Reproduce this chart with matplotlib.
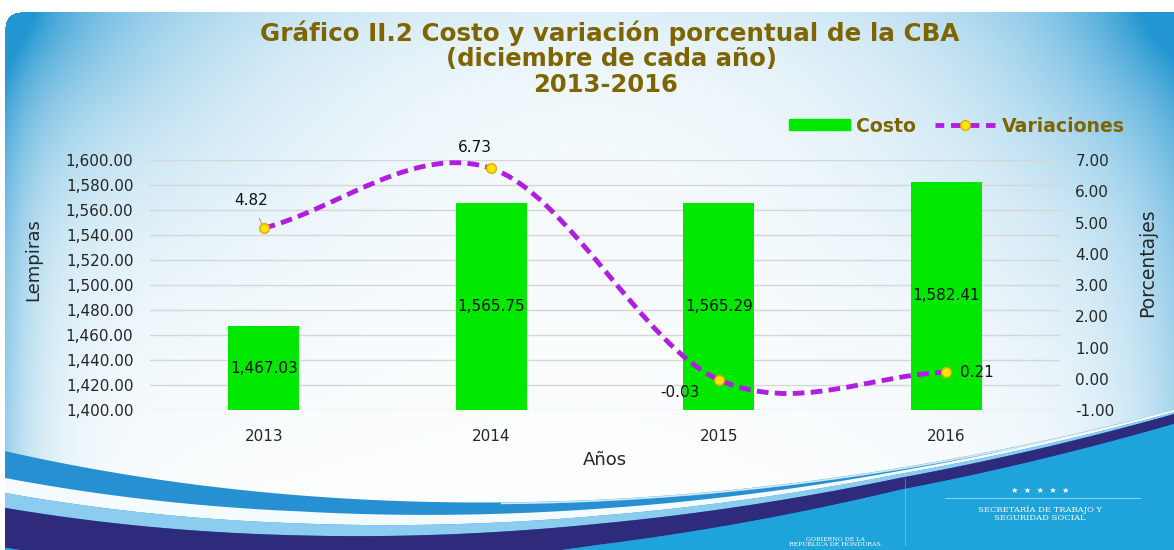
import matplotlib
matplotlib.use("Agg")
import matplotlib.pyplot as plt
import numpy as np
from matplotlib.path import Path
from matplotlib.patches import PathPatch
from matplotlib.lines import Line2D
from matplotlib.ticker import StrMethodFormatter

plt.rcParams['font.family'] = ['DejaVu Sans']
plt.rcParams['axes.unicode_minus'] = False

years = ['2013', '2014', '2015', '2016']
costo = [1467.03, 1565.75, 1565.29, 1582.41]
variacion = [4.82, 6.73, -0.03, 0.21]

W, H = 1174, 550
fig = plt.figure(figsize=(W / 100, H / 100), dpi=100)

# ---------- decorative background ----------
bg = fig.add_axes([0, 0, 1, 1], zorder=-1)
bg.set_xlim(0, W)
bg.set_ylim(H, 0)
bg.axis('off')

yy, xx = np.mgrid[0:H, 0:W].astype(float)
t_tl = 0.85 * np.exp(-np.hypot(xx - 4, (yy - 12) * 1.3) / 170.0)
t_tr = 0.85 * np.exp(-np.hypot(xx - W, (yy - 12) * 1.2) / 170.0)
t_left = 0.45 * np.exp(-(xx - 4) / 35.0)
t_right = 0.35 * np.exp(-(W - xx) / 60.0)
t_top = 0.1 * np.exp(-(yy - 12) / 50.0)
t = np.clip(t_tl + t_tr + t_left + t_right + t_top, 0, 1)
edge = np.array([0.14, 0.59, 0.82])
img = (1 - t)[..., None] * np.array([1.0, 1.0, 1.0]) + t[..., None] * edge
outside = (yy < 12) | (xx < 5) | ((xx < 20) & (yy < 27) & (np.hypot(xx - 20, yy - 27) > 15))
img[outside] = 1.0
bg.imshow(img, extent=(0, W, H, 0), aspect='auto', zorder=0)


def bezier(p0, p1, p2, p3, n=400):
    s = np.linspace(0, 1, n)[:, None]
    pts = ((1 - s) ** 3) * p0 + 3 * ((1 - s) ** 2) * s * p1 + 3 * (1 - s) * s ** 2 * p2 + s ** 3 * p3
    return pts[:, 0], pts[:, 1]


bx, by = bezier(np.array([0, 450]), np.array([350, 530]), np.array([750, 520]), np.array([1174, 410]))
xs = np.linspace(0, W, 600)
c1 = np.interp(xs, bx, by)
xk = [0, 300, 600, 900, 1174]
o_wt = np.interp(xs, xk, [27, 16, 9, 3, 0])
o_wb = np.interp(xs, xk, [42, 28, 16, 6, 2])
o_lb = np.interp(xs, xk, [57, 40, 24, 10, 4])
o_nb = np.interp(xs, xk, [97, 75, 45, 22, 14])

bg.fill_between(xs, c1, H, color='#2690d2', lw=0, zorder=1)
bg.fill_between(xs, c1 + o_wt, c1 + o_wb, color='#f4fbff', lw=0, zorder=2)
bg.fill_between(xs, c1 + o_wb, c1 + o_lb, color='#8ccdef', lw=0, zorder=2)
bg.fill_between(xs, c1 + o_lb, c1 + o_nb, color='#2e2b7c', lw=0, zorder=2)
bg.fill_between(xs, c1 + o_nb, H, color='#1fa3db', lw=0, zorder=2)
bg.plot(xs[xs > 500], c1[xs > 500] + 1, color='white', lw=1.2, alpha=0.8, zorder=3)
bg.fill_between([0, 5], 0, H, color='white', lw=0, zorder=3)

bg.text(1040, 490, '★  ★  ★  ★  ★', color='white', fontsize=6, ha='center', va='center', zorder=4)
bg.plot([945, 1140], [498, 498], color='white', lw=0.6, alpha=0.6, zorder=4)
bg.text(1040, 514, 'SECRETARÍA DE TRABAJO Y\nSEGURIDAD SOCIAL', color='white', fontsize=6,
        family='DejaVu Serif', ha='center', va='center', linespacing=1.0, zorder=4)
bg.text(835, 542, 'GOBIERNO DE LA\nREPÚBLICA DE HONDURAS', color='white', fontsize=4.5,
        family='DejaVu Serif', ha='center', va='center', linespacing=1.0, zorder=4)
bg.plot([905, 905], [478, 545], color='white', lw=0.5, alpha=0.4, zorder=4)

# ---------- titles ----------
title_color = '#7f6500'
fig.text(610 / W, 1 - 33 / H, 'Gráfico II.2 Costo y variación porcentual de la CBA', ha='center', va='center',
         fontsize=17.7, fontweight='bold', color=title_color)
fig.text(612 / W, 1 - 59 / H, '(diciembre de cada año)', ha='center', va='center',
         fontsize=17.5, fontweight='bold', color=title_color)
fig.text(606 / W, 1 - 85 / H, '2013-2016', ha='center', va='center',
         fontsize=17.5, fontweight='bold', color=title_color)

# ---------- main chart ----------
ax = fig.add_axes([150 / W, 1 - 410 / H, 910 / W, 250 / H])
ax.set_facecolor('none')
x = np.arange(len(years))
bars = ax.bar(x, costo, width=0.31, color='#00e800', zorder=2)
ax.set_xlim(-0.5, 3.5)
ax.set_ylim(1400, 1600)
ax.set_yticks(np.arange(1400, 1601, 20))
ax.yaxis.set_major_formatter(StrMethodFormatter('{x:,.2f}'))
ax.set_xticks(x)
ax.set_xticklabels(years)
ax.grid(axis='y', color='#d6d6d6', lw=1, zorder=0)
ax.set_axisbelow(True)
for s in ax.spines.values():
    s.set_visible(False)
ax.tick_params(axis='both', length=0, labelsize=11, colors='#262626')
ax.tick_params(axis='y', pad=12)
ax.tick_params(axis='x', pad=14)
ax.set_ylabel('Lempiras', fontsize=13, color='#262626')
ax.yaxis.set_label_coords(-0.118, 0.6)
ax.set_xlabel('Años', fontsize=13, color='#262626')
ax.xaxis.set_label_coords(0.5, -0.165)
ax.bar_label(bars, labels=[f'{v:,.2f}' for v in costo], label_type='center', fontsize=11, color='#111111')

ax2 = ax.twinx()
ax2.set_ylim(-1, 7)
ax2.set_yticks(np.arange(-1, 8, 1))
ax2.yaxis.set_major_formatter(StrMethodFormatter('{x:.2f}'))
for s in ax2.spines.values():
    s.set_visible(False)
ax2.tick_params(axis='y', length=0, labelsize=11, colors='#262626', pad=11)
ax2.set_ylabel('Porcentajes', fontsize=13.5, color='#262626', rotation=90)
ax2.yaxis.set_label_coords(1.086, 0.59)

# smoothed line (Catmull-Rom style Bezier through the data points)
verts = [(x[0], variacion[0])]
codes = [Path.MOVETO]
n = len(x)
for i in range(n - 1):
    if i == 0:
        t0 = (x[1] - x[0], variacion[1] - variacion[0])
    else:
        t0 = ((x[i + 1] - x[i - 1]) / 2, (variacion[i + 1] - variacion[i - 1]) / 2)
    if i + 1 == n - 1:
        t1 = (x[i + 1] - x[i], variacion[i + 1] - variacion[i])
    else:
        t1 = ((x[i + 2] - x[i]) / 2, (variacion[i + 2] - variacion[i]) / 2)
    verts += [(x[i] + t0[0] / 3, variacion[i] + t0[1] / 3),
              (x[i + 1] - t1[0] / 3, variacion[i + 1] - t1[1] / 3),
              (x[i + 1], variacion[i + 1])]
    codes += [Path.CURVE4] * 3
line_color = '#b01ee0'
ax2.add_patch(PathPatch(Path(verts, codes), fill=False, edgecolor=line_color, lw=3.5,
                        linestyle=(0, (2.4, 1.3)), capstyle='butt', zorder=3))
ax2.plot(x, variacion, ls='none', marker='o', ms=7, mfc='#ffe600', mec='#e8a800', mew=1, zorder=4)

offsets = [(-9, 20), (-12, 15), (-28, -9), (22, 0)]
for xi, v, off in zip(x, variacion, offsets):
    ax2.annotate(f'{v:.2f}', (xi, v), xytext=off, textcoords='offset points', ha='center', va='center',
                 fontsize=11, color='#111111',
                 arrowprops=dict(arrowstyle='-', color='#9a9a9a', lw=0.8, shrinkA=6, shrinkB=3) if xi == 0 else None)

# legend
h_bar = plt.Rectangle((0, 0), 1, 1, color='#00e800')
h_line = Line2D([], [], color=line_color, lw=3.5, ls=(0.4, (2.2, 1.4)), marker='o', ms=7,
                mfc='#ffe600', mec='#e8a800')
leg = fig.legend([h_bar, h_line], ['Costo', 'Variaciones'], loc='center right',
                 bbox_to_anchor=(1142 / W, 1 - 126 / H), ncol=2, frameon=False,
                 prop={'size': 13.6, 'weight': 'bold'}, handlelength=3.2, handleheight=0.5,
                 handletextpad=0.35, columnspacing=1.0)
for txt in leg.get_texts():
    txt.set_color(title_color)

fig.savefig('out.png', dpi=100)
